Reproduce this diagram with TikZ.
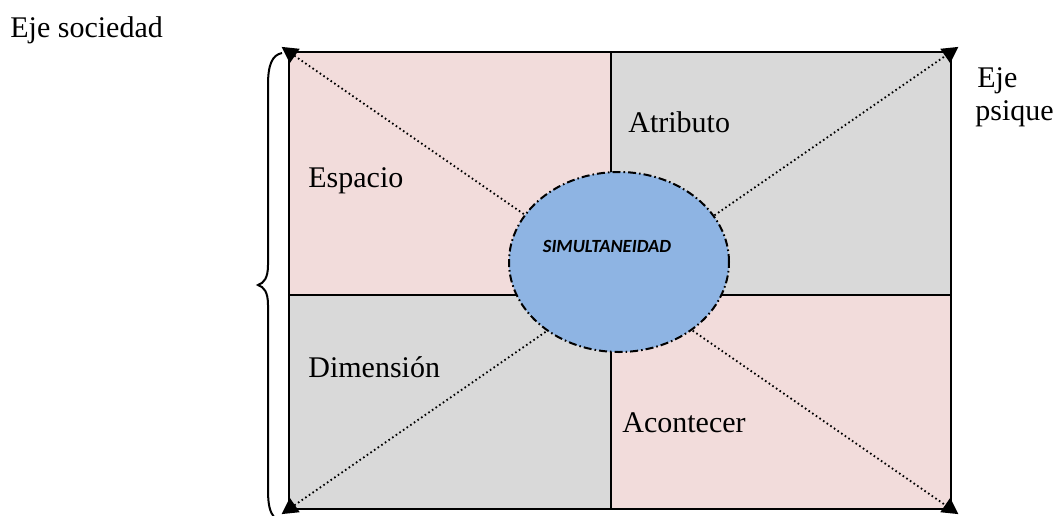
\documentclass[tikz,border=0pt]{standalone}
\usepackage{fontspec}
\setmainfont{Liberation Serif}
\newfontfamily\simfont{Carlito}
\usetikzlibrary{arrows.meta,shapes.geometric}
\definecolor{cellpink}{HTML}{F2DCDB}
\definecolor{cellgray}{HTML}{D9D9D9}
\definecolor{simblue}{HTML}{8EB4E3}
\begin{document}
\begin{tikzpicture}[x=0.5pt,y=-0.5pt,
		grid/.style={line width=1.1pt},
		diag/.style={line width=0.9pt, dash pattern=on 0.8pt off 1.4pt,
			{Triangle[length=8pt,width=8.5pt]}-{Triangle[length=8pt,width=8.5pt]},
			shorten <=-4.5pt, shorten >=-4.5pt},
		lbl/.style={anchor=base west, inner sep=0pt, font=\fontsize{15}{18}\selectfont}]
	\useasboundingbox (0,0) rectangle (1056,515);
	% cells
	\fill[cellpink] (289,52) rectangle (611,295);
	\fill[cellgray] (611,52) rectangle (951,295);
	\fill[cellgray] (289,295) rectangle (611,509);
	\fill[cellpink] (611,295) rectangle (951,509);
	\coordinate (tl) at (289,52);
	\coordinate (tr) at (951,52);
	\coordinate (bl) at (289,509);
	\coordinate (br) at (951,509);
	\draw[grid] (tl) rectangle (br);
	\draw[grid] (611,52) -- (611,509);
	\draw[grid] (289,295) -- (951,295);
	% diagonals
	\draw[diag] (tl) -- (br);
	\draw[diag] (bl) -- (tr);
	% centre
	\node (sim) [ellipse, fill=simblue, draw, line width=1pt,
		dash pattern=on 4pt off 1.5pt on 0.8pt off 1.5pt,
		minimum width=110pt, minimum height=90pt, inner sep=0pt] at (619,262) {};
	\node (simtxt) at (607,246) {\simfont\bfseries\itshape\fontsize{9.3}{11}\selectfont SIMULTANEIDAD};
	% labels
	\node (espacio) [lbl] at (308,187) {Espacio};
	\node (atributo) [lbl] at (628,132) {Atributo};
	\node (dimension) [lbl] at (308,377) {Dimensión};
	\node (acontecer) [lbl] at (622,432) {Acontecer};
	\node (sociedad) [lbl] at (10,37) {Eje sociedad};
	\node (eje) [lbl] at (977,87) {Eje};
	\node (psique) [lbl] at (975,120) {psique};
	% brace
	\draw[line width=1pt] (282,53) .. controls (272,55) and (268,65) .. (268,85)
		-- (268,265) .. controls (268,278) and (264,283) .. (258,285)
		.. controls (264,287) and (268,292) .. (268,305)
		-- (268,490) .. controls (268,505) and (270,512) .. (274,517);
\end{tikzpicture}
\end{document}
